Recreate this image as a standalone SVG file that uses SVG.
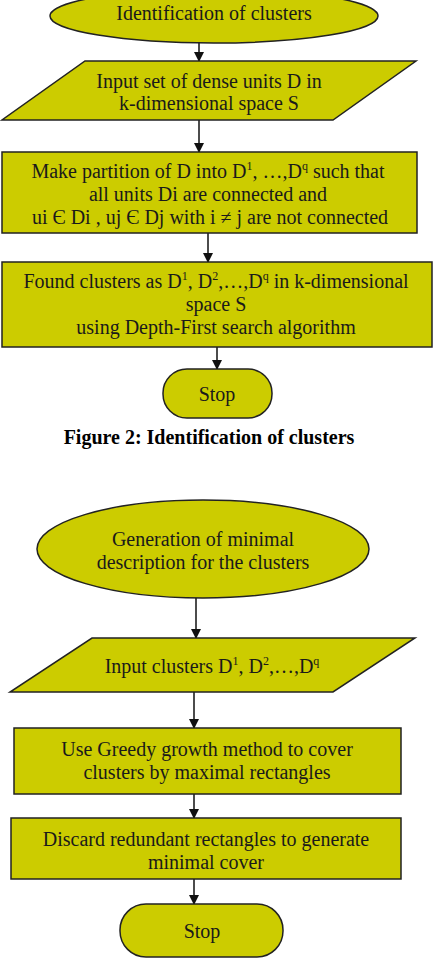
<svg xmlns="http://www.w3.org/2000/svg" width="433" height="964" viewBox="0 0 433 964">
<style>
.n{fill:#cccc00;stroke:#222;stroke-width:1.5}
.t{font-family:"Liberation Serif","Times New Roman",serif;font-size:20px;fill:#1a1a1a;text-anchor:middle}
.s{font-size:12px}
.c{stroke:#111;stroke-width:1.5;fill:none}
.cap{font-family:"Liberation Serif","Times New Roman",serif;font-size:20px;font-weight:bold;fill:#000;text-anchor:middle}
</style>
<defs>
<marker id="ah" markerWidth="10" markerHeight="10" refX="9" refY="5" orient="auto" markerUnits="userSpaceOnUse">
<path d="M0,0 L10,5 L0,10 Z" fill="#111"/>
</marker>
</defs>
<rect width="433" height="964" fill="#fff"/>
<g id="connectors">
<line class="c" x1="199" y1="43" x2="199" y2="61" marker-end="url(#ah)"/>
<line class="c" x1="199" y1="120" x2="199" y2="152" marker-end="url(#ah)"/>
<line class="c" x1="208" y1="233" x2="208" y2="262" marker-end="url(#ah)"/>
<line class="c" x1="217" y1="347" x2="217" y2="369" marker-end="url(#ah)"/>
<line class="c" x1="196" y1="598" x2="196" y2="638" marker-end="url(#ah)"/>
<line class="c" x1="194" y1="692" x2="194" y2="728" marker-end="url(#ah)"/>
<line class="c" x1="194" y1="794" x2="194" y2="818" marker-end="url(#ah)"/>
<line class="c" x1="194" y1="879" x2="194" y2="904" marker-end="url(#ah)"/>
</g>
<g id="start1">
<ellipse class="n" cx="214" cy="16" rx="164" ry="27"/>
<text class="t" x="214" y="20">Identification of clusters</text>
</g>
<g id="input1">
<polygon class="n" points="85,61 416,61 333,120 2,120"/>
<text class="t" x="209" y="88">Input set of dense units D in</text>
<text class="t" x="209" y="110">k-dimensional space S</text>
</g>
<g id="partition">
<rect class="n" x="2" y="152" width="415" height="81"/>
<text class="t" x="208" y="178">Make partition of D into D<tspan class="s" dy="-8">1</tspan><tspan dy="8">, …,D</tspan><tspan class="s" dy="-8">q</tspan><tspan dy="8"> such that</tspan></text>
<text class="t" x="208" y="201">all units Di are connected and</text>
<text class="t" x="210" y="224">ui Є Di , uj Є Dj with i ≠ j are not connected</text>
</g>
<g id="found">
<rect class="n" x="2" y="262" width="430" height="85"/>
<text class="t" x="216" y="288">Found clusters as D<tspan class="s" dy="-8">1</tspan><tspan dy="8">, D</tspan><tspan class="s" dy="-8">2</tspan><tspan dy="8">,…,D</tspan><tspan class="s" dy="-8">q</tspan><tspan dy="8">  in k-dimensional</tspan></text>
<text class="t" x="216" y="311">space S</text>
<text class="t" x="216" y="334">using Depth-First search algorithm</text>
</g>
<g id="stop1">
<rect class="n" x="163" y="369" width="109" height="49" rx="24" ry="24"/>
<text class="t" x="217" y="401">Stop</text>
</g>
<text class="cap" x="209" y="444">Figure 2: Identification of clusters</text>
<g id="start2">
<ellipse class="n" cx="203" cy="549" rx="166" ry="49"/>
<text class="t" x="203" y="546">Generation of minimal</text>
<text class="t" x="203" y="569">description for the clusters</text>
</g>
<g id="input2">
<polygon class="n" points="92,638 415,638 333,692 10,692"/>
<text class="t" x="212" y="673">Input clusters D<tspan class="s" dy="-8">1</tspan><tspan dy="8">, D</tspan><tspan class="s" dy="-8">2</tspan><tspan dy="8">,…,D</tspan><tspan class="s" dy="-8">q</tspan></text>
</g>
<g id="greedy">
<rect class="n" x="14" y="728" width="387" height="66"/>
<text class="t" x="207" y="756">Use Greedy growth method to cover</text>
<text class="t" x="207" y="779">clusters by maximal rectangles</text>
</g>
<g id="discard">
<rect class="n" x="11" y="818" width="390" height="61"/>
<text class="t" x="206" y="846">Discard redundant rectangles to generate</text>
<text class="t" x="206" y="869">minimal cover</text>
</g>
<g id="stop2">
<rect class="n" x="120" y="904" width="163" height="53" rx="26" ry="26"/>
<text class="t" x="202" y="938">Stop</text>
</g>
</svg>
